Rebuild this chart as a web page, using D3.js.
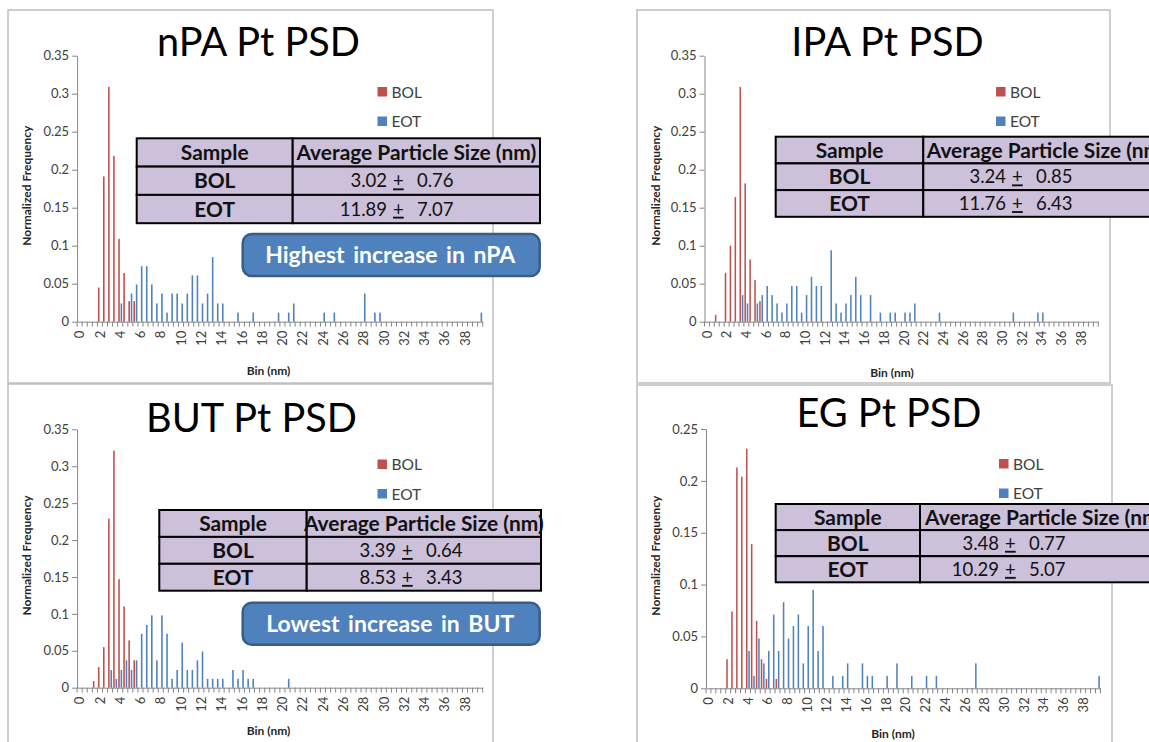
<!DOCTYPE html>
<html><head><meta charset="utf-8">
<script src="https://cdn.jsdelivr.net/npm/d3@7"></script>
<style>
body{margin:0;background:#fff}
svg{display:block}
text{font-family:Lato,"Open Sans","DejaVu Sans",sans-serif}
</style>
</head><body>
<svg id="c" width="1149" height="742"></svg>
<script>
// ---------------- DATA ----------------
const bins = [0,0.5,1,1.5,2,2.5,3,3.5,4,4.5,5,5.5,6,6.5,7,7.5,8,8.5,9,9.5,
  10,10.5,11,11.5,12,12.5,13,13.5,14,14.5,15,15.5,16,16.5,17,17.5,18,18.5,19,19.5,
  20,20.5,21,21.5,22,22.5,23,23.5,24,24.5,25,25.5,26,26.5,27,27.5,28,28.5,29,29.5,
  30,30.5,31,31.5,32,32.5,33,33.5,34,34.5,35,35.5,36,36.5,37,37.5,38,38.5,39,39.5];
const xTickLabels = [0,2,4,6,8,10,12,14,16,18,20,22,24,26,28,30,32,34,36,38];
const yTicks035 = [0,0.05,0.1,0.15,0.2,0.25,0.3,0.35];
const yTicks025 = [0,0.05,0.1,0.15,0.2,0.25];
const seriesNames = ["BOL","EOT"];

const nPA_BOL = [[2,0.045],[2.5,0.191],[3,0.309],[3.5,0.218],[4,0.109],[4.5,0.064],[5,0.027],[5.5,0.027]];
const nPA_EOT = [[4,0.024],[5,0.037],[5.5,0.049],[6,0.073],[6.5,0.073],[7,0.049],[7.5,0.024],[8,0.037],[8.5,0.012],
  [9,0.037],[9.5,0.037],[10,0.024],[10.5,0.037],[11,0.061],[11.5,0.061],[12,0.024],[12.5,0.037],[13,0.085],
  [13.5,0.024],[14,0.024],[15.5,0.012],[17,0.012],[19.5,0.012],[20.5,0.012],[21,0.024],[24,0.012],[25,0.012],
  [28,0.037],[29,0.012],[29.5,0.012],[39.5,0.012]];

const IPA_BOL = [[1,0.009],[2,0.064],[2.5,0.100],[3,0.164],[3.5,0.309],[4,0.182],[4.5,0.082],[5,0.055],[5.5,0.027]];
const IPA_EOT = [[3.5,0.035],[4,0.024],[5,0.024],[5.5,0.035],[6,0.047],[6.5,0.035],[7,0.024],[7.5,0.012],[8,0.024],
  [8.5,0.047],[9,0.047],[9.5,0.012],[10,0.035],[10.5,0.059],[11,0.047],[11.5,0.047],[12.5,0.094],[13,0.024],
  [13.5,0.012],[14,0.024],[14.5,0.035],[15,0.059],[15.5,0.035],[16.5,0.035],[17.5,0.012],[18.5,0.012],[19,0.012],
  [20,0.012],[20.5,0.012],[21,0.024],[23.5,0.012],[31,0.012],[33.5,0.012],[34,0.012]];

const BUT_BOL = [[1.5,0.009],[2,0.028],[2.5,0.055],[3,0.229],[3.5,0.321],[4,0.147],[4.5,0.110],[5,0.064],[5.5,0.037]];
const BUT_EOT = [[3,0.024],[3.5,0.012],[4,0.024],[4.5,0.037],[5,0.024],[5.5,0.037],[6,0.073],[6.5,0.085],[7,0.098],
  [7.5,0.037],[8,0.098],[8.5,0.073],[9,0.012],[9.5,0.024],[10,0.061],[10.5,0.024],[11,0.024],[11.5,0.037],
  [12,0.049],[12.5,0.012],[13,0.012],[13.5,0.012],[14,0.012],[15,0.024],[15.5,0.012],[16,0.024],[16.5,0.012],
  [17,0.012],[20.5,0.012]];

const EG_BOL = [[2,0.028],[2.5,0.074],[3,0.213],[3.5,0.204],[4,0.231],[4.5,0.139],[5,0.065],[5.5,0.028],[6,0.009],[7,0.009]];
const EG_EOT = [[4,0.036],[4.5,0.012],[5,0.048],[5.5,0.024],[6,0.036],[6.5,0.071],[7,0.036],[7.5,0.083],[8,0.048],
  [8.5,0.060],[9,0.071],[9.5,0.024],[10,0.060],[10.5,0.095],[11,0.036],[11.5,0.060],[12.5,0.012],[13.5,0.012],
  [14,0.024],[15.5,0.024],[16,0.012],[16.5,0.012],[18,0.012],[19,0.024],[20.5,0.012],[22,0.012],[23,0.012],
  [27,0.024],[39.5,0.012]];

const titles = ["nPA Pt PSD","IPA Pt PSD","BUT Pt PSD","EG Pt PSD"];
const tableHeader = ["Sample","Average Particle Size (nm)"];
const avgMean = [["3.02","11.89"],["3.24","11.76"],["3.39","8.53"],["3.48","10.29"]];
const avgSd   = [["0.76","7.07"],["0.85","6.43"],["0.64","3.43"],["0.77","5.07"]];
const callouts = ["Highest increase in nPA", null, "Lowest increase in BUT", null];

// ---------------- LAYOUT ----------------
const panels = [
  {bol:nPA_BOL, eot:nPA_EOT, yMax:0.35, yTicks:yTicks035, frame:[8,10,493,383],
   x0:77.1, x1:482.7, yBase:321.7, yTop:55.7, titleX:258.5, titleY:56,
   legX:377.5, legY:87, table:{x0:136.7,xd:292.7,x1:540,y0:138.3,h:28.3,pm:393},
   callout:{x:242.7,y:234,w:297,h:42}, yLabX:27, binX:268.5, binY:375},
  {bol:IPA_BOL, eot:IPA_EOT, yMax:0.35, yTicks:yTicks035, frame:[637,10,1110,383],
   x0:704.5, x1:1098.3, yBase:321.7, yTop:55.7, titleX:887.5, titleY:56,
   legX:996, legY:87, table:{x0:775.7,xd:923.3,x1:1170,y0:136.7,h:26.7,pm:1012},
   callout:null, yLabX:656, binX:892, binY:377},
  {bol:BUT_BOL, eot:BUT_EOT, yMax:0.35, yTicks:yTicks035, frame:[8,384,493,770],
   x0:77.1, x1:482.7, yBase:687.7, yTop:429.3, titleX:251.5, titleY:432,
   legX:377.5, legY:459.5, table:{x0:159.3,xd:306.7,x1:541,y0:510,h:26.9,pm:402},
   callout:{x:242.7,y:602.7,w:297,h:42}, yLabX:27, binX:268.5, binY:735},
  {bol:EG_BOL, eot:EG_EOT, yMax:0.25, yTicks:yTicks025, frame:[637,385,1112,770],
   x0:706, x1:1100.4, yBase:688.3, yTop:429, titleX:889, titleY:427,
   legX:999, legY:459, table:{x0:775.7,xd:920,x1:1170,y0:504,h:26.1,pm:1005},
   callout:null, yLabX:656, binX:893, binY:738}
];

const RED = "#C0504D", BLUE = "#4F81BD", AXIS = "#868686";
const svg = d3.select("#c");

function fit(sel, target){
  const fs = parseFloat(sel.attr("font-size"));
  const w = sel.node().getComputedTextLength();
  const nf = fs * target / w;
  sel.attr("font-size", nf);
  return nf;
}

// frames
panels.forEach(p=>{
  const [a,b,c,d] = p.frame;
  svg.append("rect").attr("x",a).attr("y",b).attr("width",c-a).attr("height",d-b)
    .attr("fill","#fff").attr("stroke","#BFBFBF").attr("stroke-width",1.5);
});

let titleSize = null;

panels.forEach((p,i)=>{
  const g = svg.append("g");
  const x = d3.scaleBand().domain(bins).range([p.x0, p.x1]);
  const sub = d3.scaleBand().domain(seriesNames).range([0, x.bandwidth()]).paddingInner(0.34).paddingOuter(0.23);
  const y = d3.scaleLinear().domain([0, p.yMax]).range([p.yBase, p.yTop]);

  // y axis
  const ya = g.append("g").attr("transform",`translate(${p.x0},0)`)
    .call(d3.axisLeft(y).tickValues(p.yTicks).tickSize(5).tickSizeOuter(0).tickFormat(d=>String(d)));
  ya.select(".domain").attr("stroke",AXIS);
  ya.selectAll(".tick line").attr("stroke",AXIS);
  ya.selectAll(".tick text").attr("font-size",13).attr("fill","#404040").attr("x",-8);

  // x axis
  const xa = g.append("g").attr("transform",`translate(0,${p.yBase})`)
    .call(d3.axisBottom(x).tickValues(xTickLabels).tickSize(0).tickSizeOuter(0).tickFormat(d=>String(d)));
  xa.select(".domain").attr("stroke",AXIS);
  xa.selectAll(".tick text").attr("transform","rotate(-90)").attr("x",-9).attr("y",0)
    .attr("dy","0.36em").style("text-anchor","end").attr("font-size",13).attr("fill","#404040");
  g.append("g").selectAll("line").data(bins.concat([null])).join("line")
    .attr("x1",d=> d===null ? p.x1 : x(d)).attr("x2",d=> d===null ? p.x1 : x(d))
    .attr("y1",p.yBase).attr("y2",p.yBase+5).attr("stroke",AXIS).attr("stroke-width",1);

  // bars
  g.append("g").selectAll("rect").data(p.bol).join("rect")
    .attr("x",d=>x(d[0])+sub("BOL")).attr("width",sub.bandwidth())
    .attr("y",d=>y(d[1])).attr("height",d=>y(0)-y(d[1])).attr("fill",RED);
  g.append("g").selectAll("rect").data(p.eot).join("rect")
    .attr("x",d=>x(d[0])+sub("EOT")).attr("width",sub.bandwidth())
    .attr("y",d=>y(d[1])).attr("height",d=>y(0)-y(d[1])).attr("fill",BLUE);

  // axis titles
  g.append("text").attr("x",p.binX).attr("y",p.binY).attr("text-anchor","middle")
    .attr("font-size",12).attr("font-weight","bold").attr("fill","#262626").text("Bin (nm)");
  const yc = (p.yBase + p.yTop)/2 - 3;
  g.append("text").attr("transform",`translate(${p.yLabX},${yc}) rotate(-90)`).attr("text-anchor","middle")
    .attr("dy","0.35em").attr("font-size",12).attr("font-weight","bold").attr("fill","#262626")
    .text("Normalized Frequency");

  // legend
  seriesNames.forEach((s,k)=>{
    const ly = p.legY + k*29.5;
    g.append("rect").attr("x",p.legX).attr("y",ly).attr("width",9.5).attr("height",9.5)
      .attr("fill", k===0?RED:BLUE);
    g.append("text").attr("x",p.legX+14).attr("y",ly+5).attr("dy","0.36em")
      .attr("font-size",15.5).attr("fill","#404040").text(s);
  });

  // table
  const t = p.table;
  for(let r=0;r<3;r++){
    const ry = t.y0 + r*t.h;
    g.append("rect").attr("x",t.x0).attr("y",ry).attr("width",t.xd-t.x0).attr("height",t.h)
      .attr("fill","#CCC0DA").attr("stroke","#000").attr("stroke-width",2);
    g.append("rect").attr("x",t.xd).attr("y",ry).attr("width",t.x1-t.xd).attr("height",t.h)
      .attr("fill","#CCC0DA").attr("stroke","#000").attr("stroke-width",2);
  }
  const hdr = g.append("text").attr("x",(t.xd+t.x1)/2).attr("y",t.y0+t.h/2).attr("dy","0.36em")
    .attr("text-anchor","middle").attr("font-weight","bold").attr("font-size",18).attr("fill","#111")
    .text(tableHeader[1]);
  let hs = 18;
  if(i===0){ hs = fit(hdr, 240); panels.hs = hs; } else { hs = panels.hs; hdr.attr("font-size",hs); }
  const col1 = [tableHeader[0], seriesNames[0], seriesNames[1]];
  col1.forEach((s,r)=>{
    g.append("text").attr("x",(t.x0+t.xd)/2).attr("y",t.y0+t.h*(r+0.5)).attr("dy","0.36em")
      .attr("text-anchor","middle").attr("font-weight","bold").attr("font-size",hs).attr("fill","#111").text(s);
  });
  for(let r=0;r<2;r++){
    const cy = t.y0 + t.h*(r+1.5);
    g.append("text").attr("x",t.pm-6).attr("y",cy).attr("dy","0.36em").attr("text-anchor","end")
      .attr("font-size",18.5).attr("fill","#111").text(avgMean[i][r]);
    g.append("text").attr("x",t.pm).attr("y",cy).attr("dy","0.36em").attr("text-anchor","start")
      .attr("font-size",18.5).attr("fill","#111").style("text-decoration","underline").text("+");
    g.append("text").attr("x",t.pm+24).attr("y",cy).attr("dy","0.36em").attr("text-anchor","start")
      .attr("font-size",18.5).attr("fill","#111").text(avgSd[i][r]);
  }

  // callout
  if(p.callout){
    const c = p.callout;
    g.append("rect").attr("x",c.x).attr("y",c.y).attr("width",c.w).attr("height",c.h).attr("rx",9)
      .attr("fill","#4F81BD").attr("stroke","#385D8A").attr("stroke-width",2.5);
    const ct = g.append("text").attr("x",c.x+c.w/2-1).attr("y",c.y+c.h/2).attr("dy","0.36em")
      .attr("text-anchor","middle").attr("font-weight","bold").attr("font-size",19).attr("fill","#fff")
      .style("word-spacing","3px").text(callouts[i]);
    fit(ct, i===0 ? 252 : 250);
  }

  // title
  const tt = g.append("text").attr("x",p.titleX).attr("y",p.titleY).attr("text-anchor","middle")
    .attr("font-size",40).attr("fill","#000").text(titles[i]);
  if(titleSize===null){ titleSize = fit(tt, 203); } else { tt.attr("font-size",titleSize); }
});
</script>
</body></html>
